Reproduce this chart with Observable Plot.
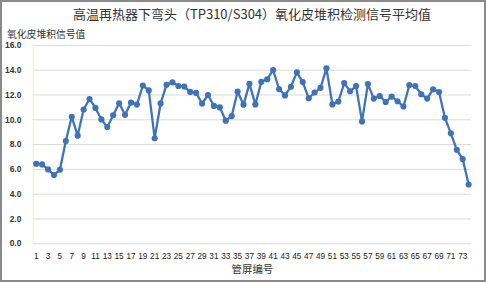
<!DOCTYPE html>
<html><head><meta charset="utf-8">
<script src="https://cdn.jsdelivr.net/npm/d3@7"></script>
<script src="https://cdn.jsdelivr.net/npm/@observablehq/plot@0.6"></script>
<style>
body{margin:0;background:#fff;}
#chart{position:relative;width:486px;height:282px;box-sizing:border-box;border:2px solid #8a8a8a;background:#fff;overflow:hidden;font-family:"Noto Sans CJK SC",sans-serif;}
#title{position:absolute;left:-2px;width:504px;top:2px;text-align:center;font-size:13px;color:#333;white-space:nowrap;}
#ylab{position:absolute;left:5px;top:25px;font-size:9.8px;color:#333;white-space:nowrap;}
#plot{position:absolute;left:-2px;top:34px;}
</style>
</head><body>
<div id="chart">
  <div id="title"></div>
  <div id="ylab"></div>
  <div id="plot"></div>
</div>
<script>
const titleText = "高温再热器下弯头（TP310/S304）氧化皮堆积检测信号平均值";
const yLabel = "氧化皮堆积信号值";
const xLabel = "管屏编号";
const panels = d3.range(1, 75);
const values = [
  6.45, 6.40, 6.00, 5.55, 5.97, 8.29, 10.24, 8.72, 10.83, 11.68,
  10.96, 10.03, 9.41, 10.37, 11.33, 10.40, 11.39, 11.23, 12.77, 12.37,
  8.51, 11.32, 12.82, 13.02, 12.73, 12.68, 12.25, 12.17, 11.31, 12.00,
  11.12, 11.00, 9.93, 10.30, 12.27, 11.22, 12.90, 11.24, 13.06, 13.27,
  14.02, 12.48, 11.97, 12.67, 13.83, 13.04, 11.74, 12.20, 12.58, 14.15,
  11.24, 11.47, 12.96, 12.30, 12.72, 9.87, 12.88, 11.71, 11.92, 11.44,
  11.87, 11.50, 11.07, 12.80, 12.72, 12.06, 11.71, 12.46, 12.24, 10.16,
  8.91, 7.58, 6.83, 4.78
];
const xTicks = d3.range(1, 74, 2);
const yTicks = d3.range(0, 17, 2);

document.getElementById("title").textContent = titleText;
document.getElementById("ylab").textContent = yLabel;

const data = panels.map((p, i) => ({p, v: values[i]}));
const color = "#3F73B8";

const chart = Plot.plot({
  width: 488,
  height: 248,
  marginLeft: 33,
  marginRight: 13,
  marginTop: 9,
  marginBottom: 39,
  style: {fontFamily: "'Liberation Sans', Arial, sans-serif", fontSize: "8.5px", color: "#222", background: "transparent"},
  x: {type: "point", domain: panels, padding: 0.5},
  y: {domain: [0, 16]},
  marks: [
    Plot.gridY(yTicks, {stroke: "#d9d9d9", strokeOpacity: 1, strokeWidth: 1}),
    Plot.frame({anchor: "left", stroke: "#eeeedc", strokeWidth: 1}),
    Plot.axisY({ticks: yTicks, tickSize: 0, tickPadding: 12, tickFormat: d => d.toFixed(1), label: null, fontWeight: "bold", fill: "#333"}),
    Plot.axisX({ticks: xTicks, tickSize: 0, tickPadding: 9, label: null, fill: "#222", fontSize: 8.3}),
    Plot.text([xLabel], {frameAnchor: "bottom", dy: 29, fontSize: 10.5, fontFamily: "'Noto Sans CJK SC', sans-serif", fill: "#333"}),
    Plot.line(data, {x: "p", y: "v", stroke: color, strokeWidth: 2.3}),
    Plot.dot(data, {x: "p", y: "v", fill: color, r: 3.1, stroke: "none"})
  ]
});
document.getElementById("plot").appendChild(chart);
</script>
</body></html>
